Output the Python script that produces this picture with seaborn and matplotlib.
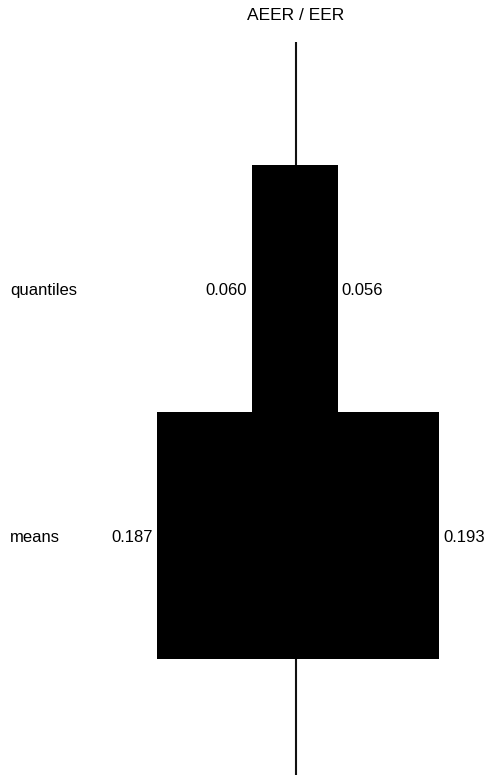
import pandas as pd
import matplotlib.pyplot as plt
import seaborn as sns
from matplotlib.transforms import blended_transform_factory

# Data
categories = ['quantiles', 'means']
left_values = [0.060, 0.187]
right_values = [0.056, 0.193]
title = 'AEER / EER'

df = pd.DataFrame({'stat': categories, 'left': [-v for v in left_values], 'right': right_values})

sns.set_style('white')
plt.rcParams['font.family'] = ['Liberation Sans', 'DejaVu Sans']
plt.rcParams['text.color'] = 'black'

fig = plt.figure(figsize=(4.87, 7.8), dpi=100)
ax = fig.add_axes([0, 0, 1, 1])

# two half bars meeting at zero
sns.barplot(data=df, x='left', y='stat', orient='h', color='black', width=1.0,
            saturation=1, ax=ax, linewidth=0)
sns.barplot(data=df, x='right', y='stat', orient='h', color='black', width=1.0,
            saturation=1, ax=ax, linewidth=0)

# axis limits so that zero sits at the centre line
ax.set_xlim(-296 / 741.5, (487 - 296) / 741.5)
ax.set_ylim((780 - 288) / 247, -288 / 247)

# center line behind bars
ax.vlines(0, -0.996, 1.972, color='#111111', linewidth=1.5, zorder=0)

# value labels
for i, (l, r) in enumerate(zip(left_values, right_values)):
    ax.annotate(f'{l:.3f}', xy=(-l, i), xytext=(-3, -2), textcoords='offset points',
                ha='right', va='center', fontsize=12)
    ax.annotate(f'{r:.3f}', xy=(r, i), xytext=(3, -2), textcoords='offset points',
                ha='left', va='center', fontsize=12)

# row labels
trans = blended_transform_factory(ax.transAxes, ax.transData)
for i, c in enumerate(categories):
    ax.annotate(c, xy=(10 / 487, i), xycoords=trans, xytext=(0, -2),
                textcoords='offset points', ha='left', va='center', fontsize=12)

fig.text(296 / 487, 1 - 15 / 780, title, ha='center', va='center', fontsize=12.5)

ax.set_xlabel('')
ax.set_ylabel('')
ax.axis('off')

fig.savefig('out.png', dpi=100)
